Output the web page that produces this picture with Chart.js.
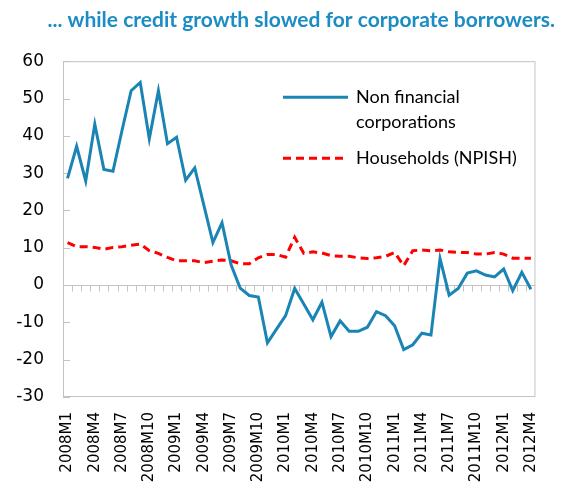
<!DOCTYPE html>
<html>
<head>
<meta charset="utf-8">
<script src="https://cdn.jsdelivr.net/npm/chart.js@4/dist/chart.umd.min.js"></script>
<style>
  html, body { margin: 0; padding: 0; background: #fff; }
  #wrap { width: 564px; height: 496px; }
</style>
</head>
<body>
<div id="wrap"><canvas id="credit-chart" width="564" height="496"></canvas></div>
<script>
const months = [
    '2008M1', '2008M2', '2008M3', '2008M4', '2008M5', '2008M6', '2008M7', '2008M8', '2008M9', '2008M10', '2008M11', '2008M12',
    '2009M1', '2009M2', '2009M3', '2009M4', '2009M5', '2009M6', '2009M7', '2009M8', '2009M9', '2009M10', '2009M11', '2009M12',
    '2010M1', '2010M2', '2010M3', '2010M4', '2010M5', '2010M6', '2010M7', '2010M8', '2010M9', '2010M10', '2010M11', '2010M12',
    '2011M1', '2011M2', '2011M3', '2011M4', '2011M5', '2011M6', '2011M7', '2011M8', '2011M9', '2011M10', '2011M11', '2011M12',
    '2012M1', '2012M2', '2012M3', '2012M4'
];

const corporations = [
    28.6, 37.2, 27.9, 43.1, 31.0, 30.5, 41.5, 52.1, 54.3, 39.2, 52.1, 37.9,
    39.6, 28.1, 31.4, 21.4, 11.4, 16.7, 5.4, -0.8, -2.8, -3.2, -15.5, -11.8,
    -8.2, -0.9, -5.1, -9.3, -4.6, -13.8, -9.6, -12.4, -12.4, -11.3, -7.1, -8.2,
    -10.9, -17.3, -16.0, -12.9, -13.4, 7.1, -2.7, -0.9, 3.2, 3.8, 2.7, 2.2,
    4.3, -1.5, 3.4, -1.1
];

const households = [
    11.4, 10.3, 10.3, 10.1, 9.6, 10.1, 10.3, 10.7, 11.0, 9.2, 8.5, 7.4,
    6.5, 6.5, 6.5, 6.0, 6.4, 6.7, 6.5, 5.7, 5.7, 7.3, 8.2, 8.2,
    7.5, 12.8, 8.5, 8.9, 8.6, 7.9, 7.7, 7.7, 7.3, 7.1, 7.3, 7.7,
    8.75, 5.2, 9.2, 9.4, 9.2, 9.4, 8.9, 8.75, 8.75, 8.3, 8.3, 8.75,
    8.3, 7.2, 7.2, 7.2
];

const seriesNames = [['Non financial', 'corporations'], ['Households (NPISH)']];
const titleText = '... while credit growth slowed for corporate borrowers.';

const BLUE = '#1a85b5';
const RED = '#ff0000';
const FRAME = '#c3c3c3';

// frame, zero line and the small tick marks Excel draws
const framePlugin = {
    id: 'frame',
    beforeDatasetsDraw(chart) {
        const { ctx, chartArea: a, scales: { x, y } } = chart;
        ctx.save();
        ctx.strokeStyle = FRAME;
        ctx.lineWidth = 1;
        ctx.strokeRect(a.left + 0.5, a.top + 0.5, a.right - a.left - 1, a.bottom - a.top - 1);

        const zero = Math.round(y.getPixelForValue(0)) + 0.5;
        ctx.beginPath();
        ctx.moveTo(a.left, zero);
        ctx.lineTo(a.right, zero);
        for (let i = 1; i < months.length; i++) {
            const px = Math.round((x.getPixelForValue(i - 1) + x.getPixelForValue(i)) / 2) + 0.5;
            ctx.moveTo(px, zero);
            ctx.lineTo(px, zero + 6);
        }
        y.ticks.forEach(t => {
            const py = Math.round(y.getPixelForValue(t.value)) + 0.5;
            ctx.moveTo(a.left, py);
            ctx.lineTo(a.left + 7, py);
        });
        ctx.stroke();
        ctx.restore();
    }
};

const legendPlugin = {
    id: 'insideLegend',
    afterDraw(chart) {
        const { ctx, chartArea: a } = chart;
        const x0 = a.left + 220, x1 = a.left + 285, tx = a.left + 293;
        ctx.save();
        ctx.font = '18px Lato';
        ctx.fillStyle = '#000';
        ctx.textBaseline = 'middle';

        ctx.strokeStyle = BLUE;
        ctx.lineWidth = 3;
        ctx.beginPath();
        ctx.moveTo(x0, a.top + 36);
        ctx.lineTo(x1, a.top + 36);
        ctx.stroke();
        ctx.fillText(seriesNames[0][0], tx, a.top + 36);
        ctx.fillText(seriesNames[0][1], tx, a.top + 61);

        ctx.strokeStyle = RED;
        ctx.setLineDash([8, 5]);
        ctx.beginPath();
        ctx.moveTo(x0, a.top + 97);
        ctx.lineTo(x1, a.top + 97);
        ctx.stroke();
        ctx.fillText(seriesNames[1][0], tx, a.top + 97);
        ctx.restore();
    }
};

new Chart(document.getElementById('credit-chart').getContext('2d'), {
    type: 'line',
    plugins: [framePlugin, legendPlugin],
    data: {
        labels: months,
        datasets: [
            {
                label: seriesNames[0].join(' '),
                data: corporations,
                borderColor: BLUE,
                borderWidth: 3,
                pointRadius: 0,
                tension: 0
            },
            {
                label: seriesNames[1][0],
                data: households,
                borderColor: RED,
                borderWidth: 3,
                borderDash: [8, 5],
                pointRadius: 0,
                tension: 0
            }
        ]
    },
    options: {
        responsive: false,
        animation: false,
        layout: { padding: { left: 0, right: 9, top: 0, bottom: 0 } },
        plugins: {
            legend: { display: false },
            tooltip: { enabled: false },
            title: {
                display: true,
                text: titleText,
                align: 'end',
                color: '#1b8cc4',
                font: { family: 'Lato', size: 21, weight: 'bold' },
                padding: { top: 8, bottom: 28 }
            }
        },
        scales: {
            x: {
                offset: true,
                grid: { display: false, drawTicks: false },
                border: { display: false },
                afterFit: s => { s.height = 99; },
                ticks: {
                    autoSkip: false,
                    minRotation: 90,
                    maxRotation: 90,
                    padding: 15,
                    color: '#000',
                    font: { family: 'DejaVu Sans', size: 15 },
                    callback: (v, i) => (i % 3 === 0 ? months[i] : '')
                }
            },
            y: {
                min: -30,
                max: 60,
                grid: { display: false, drawTicks: false },
                border: { display: false },
                afterFit: s => { s.width = 63; },
                ticks: {
                    stepSize: 10,
                    padding: 19,
                    color: '#000',
                    font: { family: 'DejaVu Sans', size: 17 }
                }
            }
        }
    }
});
</script>
</body>
</html>
